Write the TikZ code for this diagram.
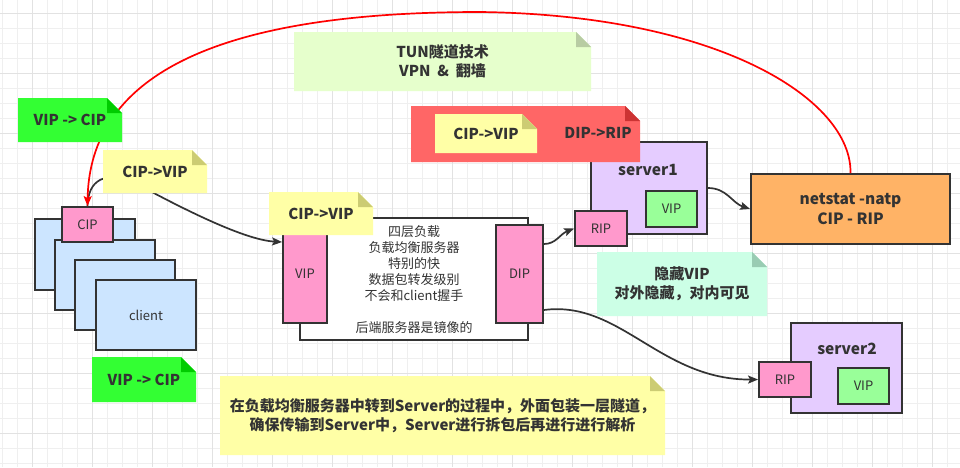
\documentclass[tikz,border=0pt]{standalone}
\usepackage{fontspec}
\setmainfont{Noto Sans CJK SC}
\usetikzlibrary{arrows.meta}
\definecolor{ink}{HTML}{333333}
\definecolor{gridminor}{HTML}{EFEFEF}
\definecolor{gridmajor}{HTML}{E2E2E2}
\definecolor{cblue}{HTML}{CCE5FF}
\definecolor{cpink}{HTML}{FF99CC}
\definecolor{clav}{HTML}{E5CCFF}
\definecolor{cgreenbox}{HTML}{99FF99}
\definecolor{corange}{HTML}{FFB366}
\definecolor{ngreen}{HTML}{33FF33}
\definecolor{ngreenf}{HTML}{00CC00}
\definecolor{nyellow}{HTML}{FFFFA6}
\definecolor{nyellowf}{HTML}{CCCC73}
\definecolor{nred}{HTML}{FF6666}
\definecolor{nredf}{HTML}{CC3333}
\definecolor{nmint}{HTML}{CCFFE6}
\definecolor{nmintf}{HTML}{99CCB3}
\definecolor{nlime}{HTML}{E6FFCC}
\definecolor{nlimef}{HTML}{B8CCA3}
\definecolor{cred}{HTML}{FF0000}
\newcommand\notebox[8]{%
  \fill[#6] (#2,#3) -- ({#4-15},#3) -- (#4,{#3+15}) -- (#4,#5) -- (#2,#5) -- cycle;
  \fill[#7] ({#4-15},#3) -- ({#4-15},{#3+15}) -- (#4,{#3+15}) -- cycle;
  \node[notetext] (#1) at ({(#2+#4)/2},{(#3+#5)/2}) {#8};}
\begin{document}
\begin{tikzpicture}[x=1pt,y=-1pt,
  box/.style={draw=ink, line width=1.8pt, inner sep=0pt, text=ink, font=\fontsize{13}{15}\selectfont},
  notetext/.style={text=ink, align=center, inner sep=0pt, font=\fontsize{15}{19}\selectfont\bfseries},
  plain/.style={text=ink, align=center, inner sep=0pt},
  arr/.style={draw=ink, line width=1.7pt, -{Stealth[length=10pt,width=8pt,inset=2pt]}},
  redarr/.style={draw=cred, line width=1.7pt, -{Stealth[length=10pt,width=8pt,inset=2pt]}}]
\useasboundingbox (0,0) rectangle (960,467);
\fill[white] (0,0) rectangle (960,467);
% grid
\foreach \x in {2.5,17.5,...,960} \draw[gridminor, line width=0.8pt] (\x,0) -- (\x,467);
\foreach \y in {13.5,28.5,...,467} \draw[gridminor, line width=0.8pt] (0,\y) -- (960,\y);
\foreach \x in {32.5,92.5,...,960} \draw[gridmajor, line width=0.8pt] (\x,0) -- (\x,467);
\foreach \y in {13.5,73.5,...,467} \draw[gridmajor, line width=0.8pt] (0,\y) -- (960,\y);

% clients
\node[box, fill=cblue, minimum width=100pt, minimum height=71pt] (c1) at (85,254.5) {};
\node[box, fill=cblue, minimum width=100pt, minimum height=70pt] (c2) at (105,275) {};
\node[box, fill=cblue, minimum width=100pt, minimum height=70pt] (c3) at (125,295) {};
\node[box, fill=cblue, minimum width=100pt, minimum height=70pt] (c4) at (146,315) {client};
\node[box, fill=cpink, minimum width=51pt, minimum height=35pt] (cip) at (87.5,224.5) {CIP};

% load balancer
\node[box, fill=white, minimum width=228pt, minimum height=122pt] (lb) at (414,279) {};
\node[plain, font=\fontsize{13}{16}\selectfont] (lbtext) at (414,279.5) {四层负载\\负载均衡服务器\\特别的快\\数据包转发级别\\不会和client握手\\[16pt]后端服务器是镜像的};
\node[box, fill=cpink, minimum width=44pt, minimum height=98pt] (vip) at (305,274) {VIP};
\node[box, fill=cpink, minimum width=47pt, minimum height=98pt] (dip) at (519.5,274) {DIP};

% server1
\node[box, fill=clav, minimum width=116pt, minimum height=92pt] (s1) at (649,188) {};
\node[plain, font=\fontsize{15.5}{18}\selectfont\bfseries] (s1lab) at (648,170) {server1};
\node[box, fill=cgreenbox, minimum width=51pt, minimum height=36pt] (s1vip) at (671.5,209) {VIP};
\node[box, fill=cpink, minimum width=52pt, minimum height=35pt] (s1rip) at (601,228.5) {RIP};

% netstat
\node[box, fill=corange, minimum width=199pt, minimum height=70pt, align=center, font=\fontsize{15.5}{20}\selectfont\bfseries] (nat) at (850.5,209) {netstat -natp\\CIP - RIP};

% server2
\node[box, fill=clav, minimum width=111pt, minimum height=90pt] (s2) at (846.5,368) {};
\node[plain, font=\fontsize{15.5}{18}\selectfont\bfseries] (s2lab) at (847,349) {server2};
\node[box, fill=cpink, minimum width=52pt, minimum height=35pt] (s2rip) at (785,379.5) {RIP};
\node[box, fill=cgreenbox, minimum width=51pt, minimum height=36pt] (s2vip) at (863.5,386) {VIP};

% connectors
\draw[arr] (cip.north) .. controls (88,180) and (105,170) .. (135,183) .. controls (185,210) and (245,240) .. ([yshift=32pt]vip.west);
\draw[arr] ([yshift=30pt]dip.east) .. controls (556,244) and (560,234) .. (s1rip.west);
\draw[arr] (s1.east) .. controls (727,188) and (732,203) .. (nat.west);
\draw[arr] ([yshift=-36pt]dip.east) .. controls (620,300) and (660,380) .. (s2rip.west);
\draw[redarr] (nat.north) .. controls (852,100) and (720,15) .. (480,12) .. controls (250,12) and (90,60) .. (cip.north);

% notes
\notebox{n1}{18}{98}{122}{142}{ngreen}{ngreenf}{VIP -> CIP}
\notebox{n2}{103}{150}{207}{193}{nyellow}{nyellowf}{CIP->VIP}
\notebox{n3}{92}{357}{196}{402}{ngreen}{ngreenf}{VIP -> CIP}
\notebox{n4}{269}{192}{373}{235}{nyellow}{nyellowf}{CIP->VIP}
\notebox{n5}{411}{106}{640}{162}{nred}{nredf}{}
\notebox{n6}{435}{114}{537}{153}{nyellow}{nyellowf}{CIP->VIP}
\node[notetext] (diprip) at (598,133) {DIP->RIP};
\notebox{n7}{294}{32}{591}{91}{nlime}{nlimef}{TUN隧道技术\\VPN\ \ \&\ \ 翻墙}
\notebox{n8}{597}{252}{767}{316}{nmint}{nmintf}{隐藏VIP\\对外隐藏，对内可见}
\notebox{n9}{220}{376}{665}{455}{nyellow}{nyellowf}{在负载均衡服务器中转到Server的过程中，外面包装一层隧道，\\确保传输到Server中，Server进行拆包后再进行进行解析}
\end{tikzpicture}
\end{document}
